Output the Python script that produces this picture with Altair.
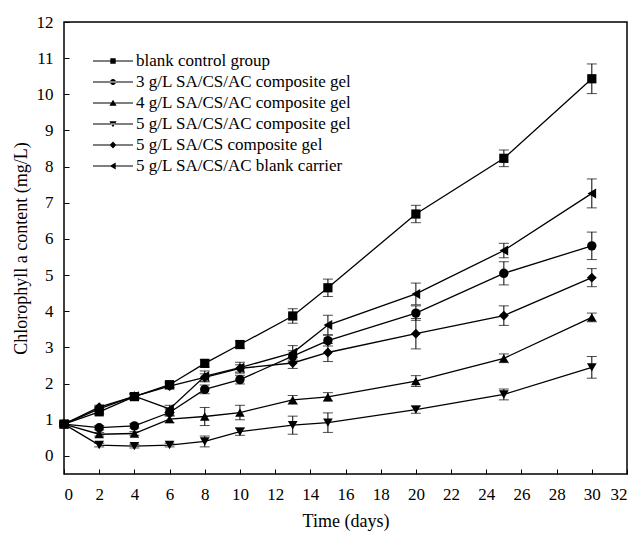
import altair as alt
import pandas as pd

days = [0, 2, 4, 6, 8, 10, 13, 15, 20, 25, 30]

series_names = [
    "blank control group",
    "3 g/L SA/CS/AC composite gel",
    "4 g/L SA/CS/AC composite gel",
    "5 g/L SA/CS/AC composite gel",
    "5 g/L SA/CS composite gel",
    "5 g/L SA/CS/AC blank carrier",
]

blank_control = [0.88, 1.22, 1.64, 1.97, 2.56, 3.08, 3.87, 4.65, 6.69, 8.23, 10.43]
blank_control_err = [0.05, 0.06, 0.08, 0.08, 0.1, 0.1, 0.2, 0.24, 0.24, 0.23, 0.41]

gel_3 = [0.88, 0.78, 0.83, 1.2, 1.84, 2.11, 2.76, 3.19, 3.95, 5.05, 5.81]
gel_3_err = [0.05, 0.06, 0.06, 0.1, 0.12, 0.12, 0.15, 0.15, 0.2, 0.32, 0.38]

gel_4 = [0.88, 0.6, 0.62, 1.02, 1.09, 1.2, 1.55, 1.63, 2.07, 2.7, 3.83]
gel_4_err = [0.05, 0.05, 0.05, 0.1, 0.25, 0.2, 0.12, 0.12, 0.15, 0.12, 0.12]

gel_5 = [0.88, 0.3, 0.27, 0.3, 0.4, 0.67, 0.85, 0.92, 1.28, 1.7, 2.45]
gel_5_err = [0.05, 0.05, 0.05, 0.05, 0.15, 0.1, 0.25, 0.27, 0.1, 0.15, 0.3]

sacs_gel = [0.88, 1.35, 1.65, 1.93, 2.17, 2.42, 2.57, 2.86, 3.38, 3.88, 4.93]
sacs_gel_err = [0.05, 0.05, 0.08, 0.08, 0.1, 0.1, 0.15, 0.25, 0.42, 0.27, 0.25]

blank_carrier = [0.88, 1.3, 1.65, 1.3, 2.2, 2.44, 2.85, 3.62, 4.48, 5.68, 7.26]
blank_carrier_err = [0.05, 0.05, 0.05, 0.1, 0.15, 0.15, 0.2, 0.27, 0.3, 0.2, 0.4]

x_ticks = list(range(0, 33, 2))
y_ticks = list(range(0, 13))

values = [blank_control, gel_3, gel_4, gel_5, sacs_gel, blank_carrier]
errors = [blank_control_err, gel_3_err, gel_4_err, gel_5_err, sacs_gel_err, blank_carrier_err]
shapes = ["square", "circle", "triangle-up", "triangle-down", "diamond", "triangle-left"]
sizes = [85, 100, 135, 135, 120, 135]

rows = []
for name, vals, errs in zip(series_names, values, errors):
    for d, v, e in zip(days, vals, errs):
        rows.append({"series": name, "day": d, "value": v, "lo": v - e, "hi": v + e})
df = pd.DataFrame(rows)

FONT = "Liberation Serif"

# legend symbols: thin filled bar (the line) with a small marker in the middle
BAR = "M-2,-0.06H2V0.06H-2Z"
legend_paths = [
    BAR + "M-0.27,-0.27H0.27V0.27H-0.27Z",
    BAR + "M-0.3,0A0.3,0.3,0,1,0,0.3,0A0.3,0.3,0,1,0,-0.3,0Z",
    BAR + "M0,-0.33L0.36,0.27H-0.36Z",
    BAR + "M0,0.33L0.36,-0.27H-0.36Z",
    BAR + "M0,-0.36L0.34,0L0,0.36L-0.34,0Z",
    BAR + "M-0.33,0L0.27,-0.36V0.36Z",
]

x_axis = alt.Axis(
    values=x_ticks,
    title="Time (days)",
    grid=False,
    domain=False,
    offset=-5,
    tickSize=5,
    labelPadding=12,
    titlePadding=10,
    labelOverlap=False,
    labelFont=FONT,
    titleFont=FONT,
    labelFontSize=17,
    titleFontSize=18,
)
x_scale = alt.Scale(domain=[0, 32], nice=False, zero=False)
y_scale = alt.Scale(domain=[-0.5, 12], nice=False, zero=False)
y_axis = alt.Axis(
    values=y_ticks,
    title="Chlorophyll a content (mg/L)",
    grid=False,
    domain=False,
    offset=-5,
    tickSize=5,
    labelPadding=11,
    titlePadding=6,
    labelOverlap=False,
    labelFont=FONT,
    titleFont=FONT,
    labelFontSize=17,
    titleFontSize=18,
)


def X():
    return alt.X("day:Q", scale=x_scale, axis=x_axis)


def Y(field):
    return alt.Y(f"{field}:Q", scale=y_scale, axis=y_axis)


base = alt.Chart(df)

lines = base.mark_line(color="black", strokeWidth=1.3).encode(
    x=X(), y=Y("value"), detail="series:N"
)

err_rule = base.mark_rule(color="black", strokeWidth=1).encode(
    x=X(), y=Y("lo"), y2="hi:Q"
)
err_lo = base.mark_tick(color="black", orient="horizontal", size=10, thickness=1).encode(
    x=X(), y=Y("lo")
)
err_hi = base.mark_tick(color="black", orient="horizontal", size=10, thickness=1).encode(
    x=X(), y=Y("hi")
)

points = base.mark_point(filled=True, color="black", opacity=1).encode(
    x=X(),
    y=Y("value"),
    shape=alt.Shape(
        "series:N",
        scale=alt.Scale(domain=series_names, range=shapes),
        legend=None,
    ),
    size=alt.Size(
        "series:N",
        scale=alt.Scale(domain=series_names, range=sizes),
        legend=None,
    ),
)

legend_layer = (
    base.mark_point(filled=True, color="black", opacity=1)
    .encode(
        x=X(),
        y=Y("value"),
        shape=alt.Shape(
            "series:N",
            scale=alt.Scale(domain=series_names, range=legend_paths),
            legend=alt.Legend(
                title=None,
                orient="none",
                legendX=29,
                legendY=29,
                symbolSize=400,
                symbolOffset=10,
                labelOffset=13,
                rowPadding=3,
                padding=0,
                labelFont=FONT,
                labelFontSize=17,
                labelColor="black",
                labelLimit=400,
                symbolFillColor="black",
                symbolStrokeColor="black",
                symbolStrokeWidth=0,
                symbolOpacity=1,
            ),
        ),
    )
    .transform_filter("datum.day < 0")
)

chart = (
    alt.layer(lines, err_rule, err_lo, err_hi, points, legend_layer)
    .resolve_scale(shape="independent")
    .properties(
        width=563,
        height=452,
        autosize=alt.AutoSizeParams(type="none"),
        padding={"left": 64, "top": 22, "right": 10, "bottom": 62},
        background="white",
    )
    .configure_view(stroke="black", strokeWidth=1.5)
    .configure_axis(
        tickColor="black",
        tickWidth=1,
        labelFont=FONT,
        labelColor="black",
        titleFont=FONT,
        titleFontWeight="normal",
        titleColor="black",
    )
)

chart.save("out.html", embed_options={"renderer": "svg", "actions": False})
